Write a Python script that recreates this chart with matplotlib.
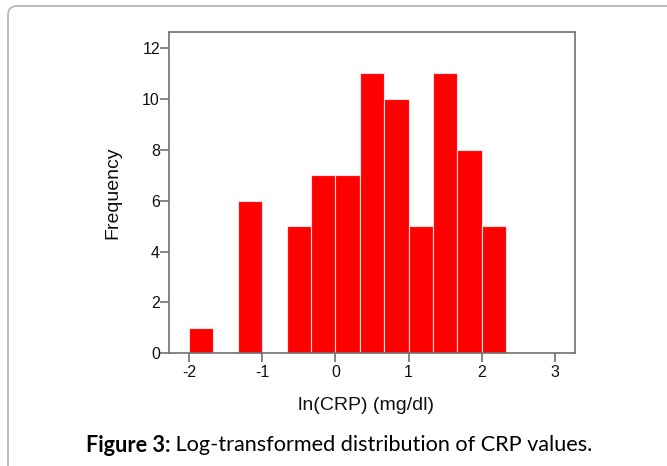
import matplotlib
matplotlib.use("Agg")
import matplotlib.pyplot as plt
from matplotlib.patches import FancyBboxPatch
from matplotlib.transforms import IdentityTransform

# histogram of ln(CRP), bins of width 1/3 starting at -2
bin_start = -2.0
bin_width = 1.0 / 3.0
counts = [1, 0, 6, 0, 5, 7, 7, 11, 10, 5, 11, 8, 5]
x_ticks = [-2, -1, 0, 1, 2, 3]
y_ticks = [0, 2, 4, 6, 8, 10, 12]

x_label = "ln(CRP) (mg/dl)"
y_label = "Frequency"
caption_bold = "Figure 3:"
caption_text = " Log-transformed distribution of CRP values."

edges = [bin_start + i * bin_width for i in range(len(counts))]

fig = plt.figure(figsize=(6.67, 4.66), dpi=100)
ax = fig.add_axes([169 / 667, 1 - 353.3 / 466, 406 / 667, 321.3 / 466])

ax.bar(edges, counts, width=bin_width, align="edge", color="#ff0000",
       edgecolor="#ffe0e0", linewidth=0.8)

ax.set_xlim(-2.273, 3.273)
ax.set_ylim(0, 12.63)
ax.set_xticks(x_ticks)
ax.set_yticks(y_ticks)
ax.set_xticklabels([str(t) for t in x_ticks])
ax.set_yticklabels([str(t) for t in y_ticks])

spine_col = "#707070"
for s in ax.spines.values():
    s.set_color(spine_col)
    s.set_linewidth(1.2)
ax.tick_params(axis="both", direction="out", color=spine_col, width=1.2,
               labelsize=11.5, labelcolor="#111111")
ax.tick_params(axis="x", length=6.5, pad=2)
ax.tick_params(axis="y", length=6.5, pad=0)
for lab in ax.get_xticklabels() + ax.get_yticklabels():
    lab.set_family("Liberation Sans")

ax.set_xlabel(x_label, fontsize=14, family="Liberation Sans", color="#111111")
ax.set_ylabel(y_label, fontsize=14, family="Liberation Sans", color="#111111")
ax.xaxis.label.set_va("center")
ax.yaxis.label.set_va("center")
ax.xaxis.set_label_coords(0.484, -0.161)
ax.yaxis.set_label_coords(-0.138, 0.5)

# rounded frame around the figure panel
frame = FancyBboxPatch((8, -30), 700, 466 - 6 + 30,
                       boxstyle="round,pad=0,rounding_size=9",
                       transform=IdentityTransform(), fill=False,
                       edgecolor="#b8b8b8", linewidth=1.3)
fig.patches.append(frame)

cap_size = 15.6
cap_y = 1 - 445 / 466
t1 = fig.text(86 / 667, cap_y, caption_bold, fontsize=cap_size,
              fontweight="bold", family="Lato", va="center", ha="left")
fig.canvas.draw()
bb = t1.get_window_extent()
fig.text(bb.x1 / 667, cap_y, caption_text, fontsize=cap_size,
         family="Lato", va="center", ha="left")

fig.savefig("out.png", dpi=100)
